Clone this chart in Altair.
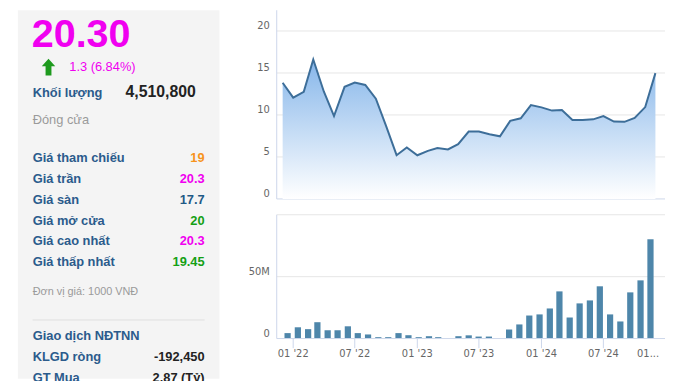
import altair as alt
import pandas as pd

# ---------------- data ----------------
months = pd.date_range("2021-12-01", "2024-12-01", freq="MS")
price = [13.84, 12.07, 12.76, 16.6, 12.8, 9.87, 13.35, 13.87, 13.57, 11.93, 8.7, 5.21,
         6.12, 5.2, 5.72, 6.06, 5.89, 6.53, 8.03, 8.03, 7.7, 7.46, 9.3, 9.6,
         11.18, 10.9, 10.52, 10.6, 9.41, 9.41, 9.48, 9.87, 9.22, 9.18, 9.65, 10.94, 14.98]
volume_m = [4.4, 9.1, 7.6, 13.2, 6.7, 6.7, 9.9, 4.4, 3.3, 1.1, 1.1, 4.4,
            2.7, 1.1, 1.9, 1.1, 0, 1.9, 2.6, 1.6, 1.6, 0, 7.3, 11.4,
            18.6, 19.5, 24.3, 38.1, 17.0, 28.4, 30.8, 42.2, 19.5, 13.8, 37.3, 47.0, 80.2]

price_ticks = [0, 5, 10, 15, 20]
price_tick_labels = ["0", "5", "10", "15", "20"]
vol_grid = [0, 50e6, 100e6]
vol_ticks = [0, 50e6]
vol_tick_labels = ["0", "50M"]
x_tick_dates = ["2022-01-01", "2022-07-01", "2023-01-01", "2023-07-01", "2024-01-01", "2024-07-01"]
x_tick_labels = ["01 '22", "07 '22", "01 '23", "07 '23", "01 '24", "07 '24"]
x_last_tick = ["2025-01-01"]
x_last_label = ["01..."]

last_price = "20.30"
change_text = "1.3 (6.84%)"
vol_label = "Khối lượng"
vol_value = "4,510,800"
close_label = "Đóng cửa"
row_labels = ["Giá tham chiếu", "Giá trần", "Giá sàn", "Giá mở cửa", "Giá cao nhất", "Giá thấp nhất"]
row_values = ["19", "20.3", "17.7", "20", "20.3", "19.45"]
unit_note = "Đơn vị giá: 1000 VNĐ"
foreign_title = "Giao dịch NĐTNN"
foreign_labels = ["KLGD ròng", "GT Mua"]
foreign_values = ["-192,450", "2.87 (Tỷ)"]

# ---------------- styles ----------------
W, H = 665, 373
FONT = "Liberation Sans"
AXFONT = "DejaVu Sans"
BLUE_LABEL = "#2b5b8c"
MAGENTA = "#f000f0"
row_colors = ["#f7941d", MAGENTA, "#1f5a86", "#14a014", MAGENTA, "#14a014"]
LINE = "#3d6e99"
BAR = "#4e86aa"
AXIS = "#ccd6eb"
GRID = "#e6e6e6"

one = lambda v: pd.DataFrame({"t": [v]})

xscale = alt.Scale(domain=[alt.DateTime(year=2021, month=12, date=1),
                           alt.DateTime(year=2024, month=12, date=1)],
                   range=[278, 655.3])
pscale = alt.Scale(domain=[0, 20], range=[191, 21])
vscale = alt.Scale(domain=[0, 100e6], range=[332.3, 207])

layers = []

# ---- left panel ----
layers.append(alt.Chart(one(0)).mark_rect(color="#f4f4f4").encode(
    x=alt.value(10), x2=alt.value(214), y=alt.value(0), y2=alt.value(H)))

def text_at(t, x, y, size, color, weight="normal", align="left"):
    return alt.Chart(one(t)).mark_text(
        font=FONT, fontSize=size, color=color, fontWeight=weight, align=align,
        baseline="alphabetic").encode(text="t:N", x=alt.value(x), y=alt.value(y))

layers.append(text_at(last_price, 24, 37.5, 40, MAGENTA, "bold"))
arrow = "M0,-1L0.8,-0.1L0.35,-0.1L0.35,1L-0.35,1L-0.35,-0.1L-0.8,-0.1Z"
layers.append(alt.Chart(one(0)).mark_point(shape=arrow, size=289, filled=True,
                                          color="#1e9a1e", opacity=1).encode(
    x=alt.value(41), y=alt.value(57.5)))
layers.append(text_at(change_text, 62, 62, 13, MAGENTA))
layers.append(text_at(vol_label, 25, 87.5, 13, BLUE_LABEL, "bold"))
layers.append(text_at(vol_value, 119, 87.5, 16, "#222222", "bold"))
layers.append(text_at(close_label, 25, 115, 13, "#9a9a9a"))

for i, (lab, val) in enumerate(zip(row_labels, row_values)):
    yy = 154 + 21 * i
    layers.append(text_at(lab, 25, yy, 13, BLUE_LABEL, "bold"))
    layers.append(text_at(val, 199, yy, 13, row_colors[i], "bold", "right"))

layers.append(text_at(unit_note, 25, 288, 11, "#9a9a9a"))
layers.append(alt.Chart(one(0)).mark_rule(color="#e0e0e0").encode(
    x=alt.value(25), x2=alt.value(199), y=alt.value(313.5)))
layers.append(text_at(foreign_title, 25, 334, 13, BLUE_LABEL, "bold"))
for i, (lab, val) in enumerate(zip(foreign_labels, foreign_values)):
    yy = 355 + 21 * i
    layers.append(text_at(lab, 25, yy, 13, BLUE_LABEL, "bold"))
    layers.append(text_at(val, 199, yy, 13, "#222222", "bold", "right"))

# ---- price chart ----
pdf = pd.DataFrame({"date": months, "price": price})
ptick = pd.DataFrame({"v": price_ticks, "lab": price_tick_labels})

layers.append(alt.Chart(ptick[ptick.v > 0]).mark_rule(color=GRID).encode(
    y=alt.Y("v:Q", scale=pscale, axis=None), x=alt.value(272), x2=alt.value(W)))
layers.append(alt.Chart(ptick[ptick.v == 0]).mark_rule(color=AXIS).encode(
    y=alt.Y("v:Q", scale=pscale, axis=None), x=alt.value(272), x2=alt.value(W)))
layers.append(alt.Chart(ptick).mark_text(font=AXFONT, fontSize=10, color="#666666",
                                         align="right", baseline="alphabetic", dy=-2).encode(
    y=alt.Y("v:Q", scale=pscale, axis=None), x=alt.value(265), text="lab:N"))

grad = alt.Gradient(gradient="linear",
                    stops=[alt.GradientStop(color="#86b6ea", offset=0),
                           alt.GradientStop(color="#ffffff", offset=1)],
                    x1=1, x2=1, y1=0, y2=1)
layers.append(alt.Chart(pdf).mark_area(color=grad).encode(
    x=alt.X("date:T", scale=xscale, axis=None),
    y=alt.Y("price:Q", scale=pscale, axis=None)))
layers.append(alt.Chart(pdf).mark_line(color=LINE, strokeWidth=2).encode(
    x=alt.X("date:T", scale=xscale, axis=None),
    y=alt.Y("price:Q", scale=pscale, axis=None)))
layers.append(alt.Chart(one(0)).mark_rule(color=AXIS).encode(
    x=alt.value(272), y=alt.value(0), y2=alt.value(191)))

# ---- volume chart ----
vdf = pd.DataFrame({"date": months, "vol": [v * 1e6 for v in volume_m]})
vgrid = pd.DataFrame({"v": vol_grid})
vtick = pd.DataFrame({"v": vol_ticks, "lab": vol_tick_labels})

layers.append(alt.Chart(vgrid[vgrid.v > 0]).mark_rule(color=GRID).encode(
    y=alt.Y("v:Q", scale=vscale, axis=None), x=alt.value(272), x2=alt.value(W)))
layers.append(alt.Chart(vtick).mark_text(font=AXFONT, fontSize=10, color="#666666",
                                         align="right", baseline="alphabetic", dy=-2).encode(
    y=alt.Y("v:Q", scale=vscale, axis=None), x=alt.value(265), text="lab:N"))
layers.append(alt.Chart(vdf).mark_bar(color=BAR, size=6.3).encode(
    x=alt.X("date:T", scale=xscale, axis=None),
    y=alt.Y("vol:Q", scale=vscale, axis=None)))
layers.append(alt.Chart(vgrid[vgrid.v == 0]).mark_rule(color=AXIS).encode(
    y=alt.Y("v:Q", scale=vscale, axis=None), x=alt.value(272), x2=alt.value(W)))
layers.append(alt.Chart(one(0)).mark_rule(color=AXIS).encode(
    x=alt.value(272), y=alt.value(207), y2=alt.value(332.3)))

xt = pd.DataFrame({"d": pd.to_datetime(x_tick_dates + x_last_tick),
                   "lab": x_tick_labels + x_last_label})
layers.append(alt.Chart(xt).mark_rule(color=AXIS).encode(
    x=alt.X("d:T", scale=xscale, axis=None), y=alt.value(332.3), y2=alt.value(342)))
layers.append(alt.Chart(xt.iloc[:-1]).mark_text(font=AXFONT, fontSize=10, color="#666666",
                                               align="center", baseline="alphabetic").encode(
    x=alt.X("d:T", scale=xscale, axis=None), y=alt.value(351), text="lab:N"))
layers.append(alt.Chart(xt.iloc[-1:]).mark_text(font=AXFONT, fontSize=10, color="#666666",
                                               align="right", baseline="alphabetic", dx=-7).encode(
    x=alt.X("d:T", scale=xscale, axis=None), y=alt.value(351), text="lab:N"))

chart = alt.layer(*layers).resolve_scale(
    x="independent", y="independent"
).properties(
    width=W, height=H, autosize=alt.AutoSizeParams(type="none"), padding=0,
    background="white"
).configure_view(stroke=None)

chart.save("out.html", embed_options={"renderer": "svg", "actions": False})
